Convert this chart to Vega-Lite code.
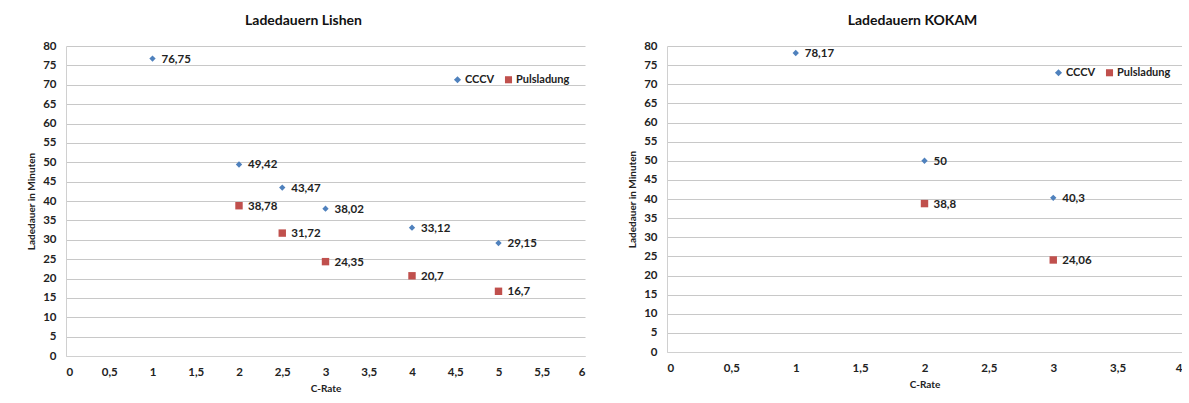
{
  "$schema": "https://vega.github.io/schema/vega-lite/v6.json",
  "padding": {"left": 26, "top": 14, "right": 0, "bottom": 0},
  "background": "white",
  "config": {
    "locale": {"number": {"decimal": ",", "thousands": ".", "grouping": [3], "currency": ["", " €"]}},
    "font": "Lato",
    "view": {"stroke": null},
    "concat": {"spacing": 42},
    "axis": {
      "labelFont": "Lato", "labelFontWeight": "bold", "labelFontSize": 11.5, "labelColor": "#222",
      "titleFont": "Lato", "titleFontWeight": "bold", "titleFontSize": 10, "titleColor": "#222",
      "ticks": false, "domainColor": "#d0d0d0", "gridColor": "#c8c8c8", "gridWidth": 1.2, "labelOverlap": false
    },
    "title": {"font": "Lato", "fontSize": 14, "fontWeight": "bold", "color": "#111"},
    "legend": {"labelFont": "Lato", "labelFontWeight": "bold", "labelFontSize": 11, "labelColor": "#222"}
  },
  "datasets": {
    "lishen": [
      {"c": 1, "t": 76.75, "s": "CCCV"},
      {"c": 2, "t": 49.42, "s": "CCCV"},
      {"c": 2.5, "t": 43.47, "s": "CCCV"},
      {"c": 3, "t": 38.02, "s": "CCCV"},
      {"c": 4, "t": 33.12, "s": "CCCV"},
      {"c": 5, "t": 29.15, "s": "CCCV"},
      {"c": 2, "t": 38.78, "s": "Pulsladung"},
      {"c": 2.5, "t": 31.72, "s": "Pulsladung"},
      {"c": 3, "t": 24.35, "s": "Pulsladung"},
      {"c": 4, "t": 20.7, "s": "Pulsladung"},
      {"c": 5, "t": 16.7, "s": "Pulsladung"}
    ],
    "kokam": [
      {"c": 1, "t": 78.17, "s": "CCCV"},
      {"c": 2, "t": 50, "s": "CCCV"},
      {"c": 3, "t": 40.3, "s": "CCCV"},
      {"c": 2, "t": 38.8, "s": "Pulsladung"},
      {"c": 3, "t": 24.06, "s": "Pulsladung"}
    ]
  },
  "hconcat": [
    {
      "width": 519,
      "height": 310,
      "title": {"text": "Ladedauern Lishen", "dx": -22, "offset": 12},
      "data": {"name": "lishen"},
      "encoding": {
        "x": {"field": "c", "type": "quantitative", "title": "C-Rate",
              "scale": {"domain": [0, 6], "nice": false},
              "axis": {"values": [0,0.5,1,1.5,2,2.5,3,3.5,4,4.5,5,5.5,6], "format": ".1~f", "grid": false, "labelPadding": 10, "titlePadding": 6}},
        "y": {"field": "t", "type": "quantitative", "title": "Ladedauer in Minuten",
              "scale": {"domain": [0, 80], "nice": false},
              "axis": {"values": [0,5,10,15,20,25,30,35,40,45,50,55,60,65,70,75,80], "labelPadding": 10, "titlePadding": 6}}
      },
      "layer": [
        {
          "mark": {"type": "point", "filled": true, "opacity": 1},
          "encoding": {
            "color": {"field": "s", "type": "nominal", "title": null,
                      "scale": {"domain": ["CCCV", "Pulsladung"], "range": ["#4f81bd", "#c0504d"]},
                      "legend": {"orient": "none", "direction": "horizontal", "legendX": 386, "legendY": 28, "symbolSize": 50, "columnPadding": 8, "labelOffset": 2}},
            "shape": {"field": "s", "type": "nominal",
                      "scale": {"domain": ["CCCV", "Pulsladung"], "range": ["diamond", "square"]}},
            "size": {"field": "s", "type": "nominal", "legend": null,
                     "scale": {"domain": ["CCCV", "Pulsladung"], "range": [40, 55]}}
          }
        },
        {
          "mark": {"type": "text", "align": "left", "baseline": "middle", "dx": 9, "dy": 1, "fontWeight": "bold", "fontSize": 11.5, "color": "#222", "font": "Lato"},
          "encoding": {
            "text": {"field": "t", "type": "quantitative", "format": ".2~f"}
          }
        }
      ]
    },
    {
      "width": 515,
      "height": 306,
      "title": {"text": "Ladedauern KOKAM", "dx": -12, "offset": 12},
      "data": {"name": "kokam"},
      "encoding": {
        "x": {"field": "c", "type": "quantitative", "title": "C-Rate",
              "scale": {"domain": [0, 4], "nice": false},
              "axis": {"values": [0,0.5,1,1.5,2,2.5,3,3.5,4], "format": ".1~f", "grid": false, "labelPadding": 10, "titlePadding": 6}},
        "y": {"field": "t", "type": "quantitative", "title": "Ladedauer in Minuten",
              "scale": {"domain": [0, 80], "nice": false},
              "axis": {"values": [0,5,10,15,20,25,30,35,40,45,50,55,60,65,70,75,80], "labelPadding": 10, "titlePadding": 6}}
      },
      "layer": [
        {
          "mark": {"type": "point", "filled": true, "opacity": 1},
          "encoding": {
            "color": {"field": "s", "type": "nominal", "title": null,
                      "scale": {"domain": ["CCCV", "Pulsladung"], "range": ["#4f81bd", "#c0504d"]},
                      "legend": {"orient": "none", "direction": "horizontal", "legendX": 386, "legendY": 21, "symbolSize": 50, "columnPadding": 8, "labelOffset": 2}},
            "shape": {"field": "s", "type": "nominal",
                      "scale": {"domain": ["CCCV", "Pulsladung"], "range": ["diamond", "square"]}},
            "size": {"field": "s", "type": "nominal", "legend": null,
                     "scale": {"domain": ["CCCV", "Pulsladung"], "range": [40, 55]}}
          }
        },
        {
          "mark": {"type": "text", "align": "left", "baseline": "middle", "dx": 9, "dy": 1, "fontWeight": "bold", "fontSize": 11.5, "color": "#222", "font": "Lato"},
          "encoding": {
            "text": {"field": "t", "type": "quantitative", "format": ".2~f"}
          }
        }
      ]
    }
  ],
  "resolve": {"legend": {"color": "independent", "shape": "independent"}}
}
